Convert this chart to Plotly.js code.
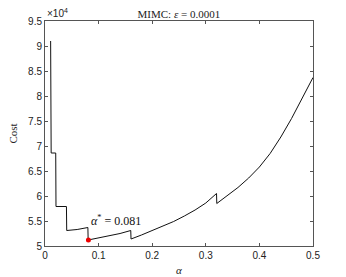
<!DOCTYPE html>
<html>
<head>
<meta charset="utf-8">
<script src="https://cdn.plot.ly/plotly-3.0.1.min.js"></script>
<style>html,body{margin:0;padding:0;background:#fff;}#chart{width:346px;height:277px;}</style>
</head>
<body>
<div id="chart"></div>
<script>
const alpha = [0.0105, 0.0108, 0.0115, 0.02, 0.0205, 0.04, 0.0405, 0.06, 0.08, 0.0805, 0.1, 0.12, 0.14, 0.16, 0.1605, 0.18, 0.2, 0.22, 0.24, 0.26, 0.28, 0.30, 0.32, 0.3205, 0.34, 0.36, 0.38, 0.40, 0.42, 0.44, 0.46, 0.48, 0.5];
const cost  = [91000, 74900, 68600, 68600, 57900, 57900, 53100, 53300, 53700, 51200, 51600, 52000, 52500, 53100, 51400, 52200, 53100, 54000, 54900, 56000, 57200, 58600, 60500, 58500, 60000, 61700, 63600, 65800, 68500, 71800, 75500, 79600, 83700];
const optAlpha = [0.081];
const optCost = [51200];
const yTickVals = [50000, 55000, 60000, 65000, 70000, 75000, 80000, 85000, 90000, 95000];
const yTickText = ['5', '5.5', '6', '6.5', '7', '7.5', '8', '8.5', '9', '9.5'];
const xTickVals = [0, 0.1, 0.2, 0.3, 0.4, 0.5];
const xTickText = ['0', '0.1', '0.2', '0.3', '0.4', '0.5'];

const serif = 'Liberation Serif, DejaVu Serif, serif';
const sans = 'Liberation Sans, Arial, sans-serif';
const axisCommon = {
  showline: true, linecolor: '#555', linewidth: 1, mirror: 'allticks',
  ticks: 'inside', ticklen: 3, tickcolor: '#555', tickwidth: 1,
  showgrid: false, zeroline: false,
  tickfont: {family: sans, size: 10, color: '#222'}
};
const data = [
  {x: alpha, y: cost, type: 'scatter', mode: 'lines', line: {color: '#111', width: 1}, hoverinfo: 'none'},
  {x: optAlpha, y: optCost, type: 'scatter', mode: 'markers', marker: {color: '#e00', size: 5}, hoverinfo: 'none'}
];
const layout = {
  width: 346, height: 277,
  margin: {l: 45, r: 33, t: 21, b: 31},
  paper_bgcolor: '#fff', plot_bgcolor: '#fff',
  showlegend: false,
  title: {text: 'MIMC: <i>ε</i> = 0.0001', font: {family: serif, size: 11, color: '#222', weight: 'normal'}, x: 0.517, xanchor: 'center', y: 0.95, yanchor: 'middle'},
  xaxis: Object.assign({}, axisCommon, {range: [0, 0.5], tickvals: xTickVals, ticktext: xTickText,
    title: {text: '<i>α</i>', font: {family: serif, size: 11, color: '#222'}, standoff: 6}}),
  yaxis: Object.assign({}, axisCommon, {range: [50000, 95000], tickvals: yTickVals, ticktext: yTickText,
    title: {text: 'Cost', font: {family: serif, size: 11, color: '#222'}, standoff: 8}}),
  annotations: [
    {xref: 'paper', yref: 'paper', x: 0.0, y: 1.0, xanchor: 'left', yanchor: 'bottom', showarrow: false,
     text: '×10<sup>4</sup>', font: {family: sans, size: 10, color: '#222'}},
    {xref: 'x', yref: 'y', x: 0.082, y: 55200, xanchor: 'left', yanchor: 'middle', showarrow: false,
     text: '<i>α</i><sup>*</sup> = 0.081', font: {family: serif, size: 12, color: '#111'}}
  ]
};
Plotly.newPlot('chart', data, layout, {staticPlot: true, displayModeBar: false});
</script>
</body>
</html>
